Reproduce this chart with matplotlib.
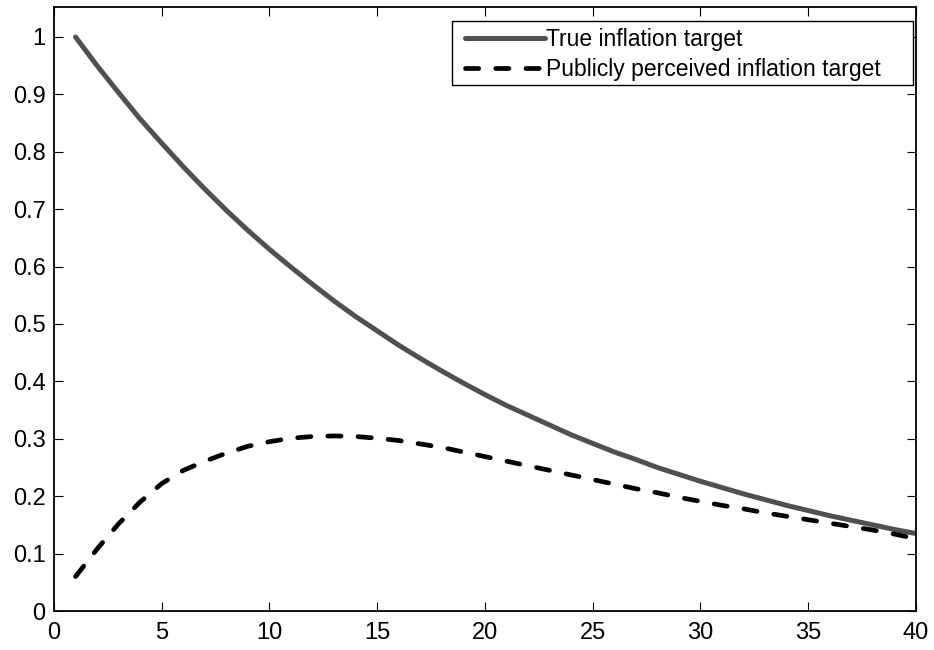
import matplotlib
matplotlib.use("Agg")
import matplotlib.pyplot as plt
from matplotlib.patches import Rectangle

plt.rcParams["font.family"] = ["Liberation Sans", "DejaVu Sans"]

periods = list(range(1, 41))
true_target = [1.000, 0.950, 0.903, 0.857, 0.815, 0.774, 0.735, 0.698, 0.663, 0.630,
               0.599, 0.569, 0.540, 0.513, 0.488, 0.463, 0.440, 0.418, 0.397, 0.377,
               0.358, 0.341, 0.324, 0.307, 0.292, 0.277, 0.264, 0.250, 0.238, 0.226,
               0.215, 0.204, 0.194, 0.184, 0.175, 0.166, 0.158, 0.150, 0.142, 0.135]
perceived_target = [0.060, 0.108, 0.152, 0.190, 0.222, 0.245, 0.261, 0.275, 0.287, 0.295,
                    0.301, 0.304, 0.305, 0.304, 0.301, 0.297, 0.291, 0.285, 0.277, 0.269,
                    0.261, 0.253, 0.245, 0.237, 0.229, 0.221, 0.213, 0.206, 0.198, 0.191,
                    0.184, 0.178, 0.171, 0.165, 0.159, 0.153, 0.147, 0.141, 0.134, 0.126]

W, H = 934, 650
fig = plt.figure(figsize=(W / 100, H / 100), dpi=100)
ax = fig.add_axes([0.0578, 0.06, 0.9229, 0.929])

ax.plot(periods, true_target, color="#505050", linewidth=3.6,
        solid_capstyle="round", label="True inflation target")
ax.plot(periods, perceived_target, color="black", linewidth=3.4,
        linestyle=(0, (2.8, 3.6)), dash_capstyle="round",
        label="Publicly perceived inflation target")

ax.set_xlim(0, 40)
ax.set_ylim(0, 1.052)
ax.set_xticks(range(0, 41, 5))
ax.set_yticks([i / 10 for i in range(11)])
ax.set_yticklabels(["0", "0.1", "0.2", "0.3", "0.4", "0.5", "0.6", "0.7", "0.8", "0.9", "1"])

ax.tick_params(direction="in", length=6.5, width=0.8, top=True, right=True,
               labelsize=17)
ax.tick_params(axis="x", pad=8)
ax.tick_params(axis="y", pad=6)
for s in ax.spines.values():
    s.set_linewidth(1.3)

# matlab style legend box: wide right margin
box = Rectangle((452 / W, 1 - 85 / H), 461 / W, 64 / H, transform=fig.transFigure,
                facecolor="white", edgecolor="black", linewidth=1.0,
                clip_on=False, zorder=4.5)
ax.add_patch(box)
leg = ax.legend(loc="upper left", bbox_to_anchor=(458 / W, 1 - 21 / H),
                bbox_transform=fig.transFigure, fontsize=16.5, handlelength=3.5,
                handletextpad=0.05, borderpad=0.3, labelspacing=0.3,
                borderaxespad=0, frameon=False)

fig.savefig("out.png", dpi=100)
